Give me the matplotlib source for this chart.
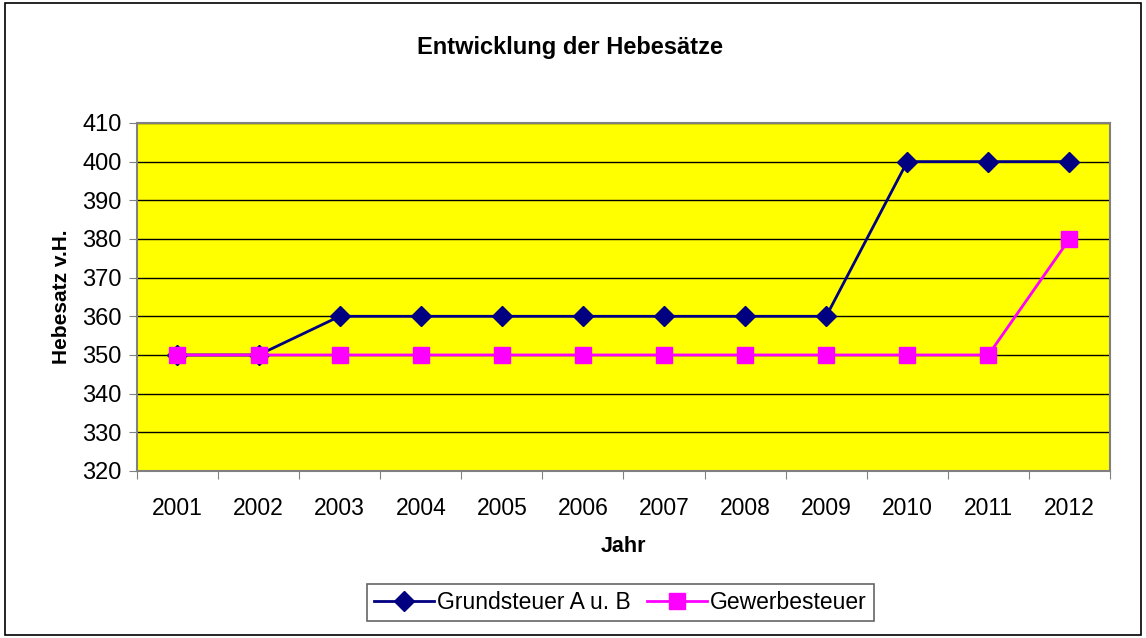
import matplotlib
matplotlib.use('Agg')
import matplotlib.pyplot as plt
from matplotlib.patches import Rectangle
import numpy as np

years = ['2001', '2002', '2003', '2004', '2005', '2006', '2007', '2008', '2009', '2010', '2011', '2012']
grundsteuer = [350, 350, 360, 360, 360, 360, 360, 360, 360, 400, 400, 400]
gewerbesteuer = [350, 350, 350, 350, 350, 350, 350, 350, 350, 350, 350, 380]
yticks = [320, 330, 340, 350, 360, 370, 380, 390, 400, 410]

plt.rcParams['font.family'] = ['Liberation Sans', 'DejaVu Sans']

fig = plt.figure(figsize=(11.46, 6.38), dpi=100)
fig.patches.append(Rectangle((0.004, 0.004), 0.992, 0.992, transform=fig.transFigure,
                             fill=False, edgecolor='black', linewidth=1.2))
ax = fig.add_axes([0.1195, 0.2618, 0.8491, 0.5455])
ax.set_facecolor('#FFFF00')

x = np.arange(len(years))
ax.plot(x, grundsteuer, color='#000080', linewidth=2, marker='D', markersize=10,
        label='Grundsteuer A u. B', zorder=3)
ax.plot(x, gewerbesteuer, color='#FF00FF', linewidth=2, marker='s', markersize=11,
        label='Gewerbesteuer', zorder=3)

ax.set_xlim(-0.5, len(years) - 0.5)
ax.set_ylim(320, 410)
ax.set_yticks(yticks)
ax.yaxis.grid(True, color='black', linewidth=1)
ax.set_axisbelow(True)

# category ticks between labels, like the original
ax.set_xticks(np.arange(-0.5, len(years)), labels=[''] * (len(years) + 1))
ax.set_xticks(x, labels=years, minor=True)
ax.tick_params(axis='x', which='minor', length=0, pad=19, labelsize=16.5)
ax.tick_params(axis='x', which='major', length=6, color='#808080')
ax.tick_params(axis='y', length=6, labelsize=17, color='#808080', pad=5)

for s in ax.spines.values():
    s.set_color('#808080')
    s.set_linewidth(1.5)

# title is centred on the whole chart, not on the plot area
fig.text(0.4975, 0.926, 'Entwicklung der Hebesätze', fontsize=17, fontweight='bold',
         ha='center', va='center')
ax.set_xlabel('Jahr', fontsize=15.5, fontweight='bold', labelpad=11)
ax.set_ylabel('Hebesatz v.H.', fontsize=15, fontweight='bold', labelpad=8)

leg = ax.legend(loc='upper center', bbox_to_anchor=(0.497, -0.325), ncol=2, fontsize=16.5,
                frameon=True, fancybox=False, edgecolor='#404040', handlelength=2.6,
                columnspacing=0.7, handletextpad=0.15, borderpad=0.3, borderaxespad=0)
leg.get_frame().set_linewidth(1.2)

fig.savefig('out.png', dpi=100)
